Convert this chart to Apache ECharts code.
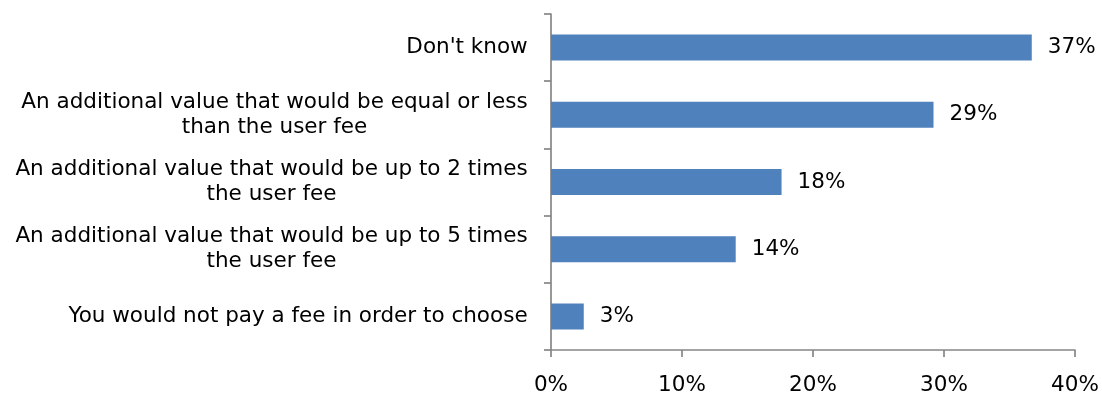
<!DOCTYPE html>
<html>
<head>
<meta charset="utf-8">
<script src="https://cdn.jsdelivr.net/npm/echarts@6/dist/echarts.min.js"></script>
<style>html,body{margin:0;padding:0;background:#fff}#c{width:1102px;height:394px}</style>
</head>
<body>
<div id="c"></div>
<script>
const categories = [
  "Don't know",
  "An additional value that would be equal or less\nthan the user fee",
  "An additional value that would be up to 2 times\nthe user fee",
  "An additional value that would be up to 5 times\nthe user fee",
  "You would not pay a fee in order to choose"
];
const values = [36.7, 29.2, 17.6, 14.1, 2.5];
const xTicks = [0, 10, 20, 30, 40];

const FONT = 'DejaVu Sans';
const FS = 21.5;

// centre the lines of each wrapped label within its own block
const ctx = document.createElement('canvas').getContext('2d');
ctx.font = FS + 'px "' + FONT + '"';
const rich = {};
categories.forEach((c, i) => {
  const w = Math.max(...c.split('\n').map(l => ctx.measureText(l).width));
  rich['r' + i] = {width: Math.ceil(w), align: 'center', fontFamily: FONT, fontSize: FS, color: '#000', lineHeight: 25};
});

const chart = echarts.init(document.getElementById('c'), null, {renderer: 'canvas'});
chart.setOption({
  animation: false,
  backgroundColor: '#fff',
  grid: {left: 551, right: 27, top: 14, bottom: 44, containLabel: false, outerBoundsMode: 'none'},
  xAxis: {
    type: 'value', min: xTicks[0], max: xTicks[xTicks.length - 1], interval: 10,
    splitLine: {show: false},
    axisLine: {show: true, lineStyle: {color: '#868686', width: 1.7}},
    axisTick: {show: true, length: 7, lineStyle: {color: '#868686', width: 1.7}},
    axisLabel: {formatter: '{value}%', color: '#000', fontFamily: FONT, fontSize: FS, margin: 24}
  },
  yAxis: {
    type: 'category', data: categories, inverse: true,
    axisLine: {show: true, lineStyle: {color: '#868686', width: 1.7}},
    axisTick: {show: true, length: 7, alignWithLabel: false, lineStyle: {color: '#868686', width: 1.7}},
    axisLabel: {
      color: '#000', fontFamily: FONT, fontSize: FS, lineHeight: 25, margin: 23, align: 'right',
      formatter: (val, idx) => val.split('\n').map(l => '{r' + idx + '|' + l + '}').join('\n'),
      rich: rich
    }
  },
  series: [{
    type: 'bar', data: values, barWidth: 26,
    itemStyle: {color: '#4F81BD'},
    label: {show: true, position: 'right', distance: 16, color: '#000', fontFamily: FONT, fontSize: FS,
      formatter: p => Math.round(p.value) + '%'}
  }]
});
</script>
</body>
</html>
